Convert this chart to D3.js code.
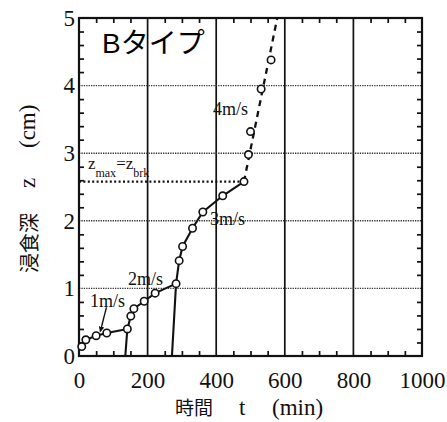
<!DOCTYPE html>
<html><head><meta charset="utf-8">
<script src="https://cdn.jsdelivr.net/npm/d3@7"></script>
<style>
body{margin:0;background:#fff}svg{display:block}
.sf{font-family:"Liberation Serif","Times New Roman","DejaVu Serif",serif}
.cj{font-family:"Noto Sans CJK JP",sans-serif}
.ti{font-family:"Liberation Sans",Arial,"Noto Sans CJK JP",sans-serif}
</style>
</head><body><svg id="c" width="447" height="422"></svg>
<script>
// ---- data ----
const run1T = [8, 20, 50, 81, 141];
const run1Z = [0.14, 0.24, 0.30, 0.34, 0.40];
const run2T = [135, 141, 151, 160, 190, 222, 283];
const run2Z = [0, 0.40, 0.59, 0.70, 0.81, 0.93, 1.07];
const run3T = [271, 283, 292, 302, 331, 361, 419, 481];
const run3Z = [0, 1.07, 1.41, 1.62, 1.89, 2.13, 2.37, 2.58];
const trend4T = [481, 578];
const trend4Z = [2.58, 5.0];
const pts4T = [494, 500, 531, 560];
const pts4Z = [2.98, 3.32, 3.95, 4.38];
const zBrk = 2.58;
const xTicks = [0, 200, 400, 600, 800, 1000];
const yTicks = [0, 1, 2, 3, 4, 5];
const speedLabels = ["1m/s", "2m/s", "3m/s", "4m/s"];
const title = "Bタイプ";
const xTitle = ["時間", "t", "(min)"];
const yTitle = ["浸食深", "z", "(cm)"];

// ---- layout ----
const svg = d3.select("#c");
const L = 79, R = 422, T = 18, B = 356;
const x = d3.scaleLinear().domain([0, 1000]).range([L, R]);
const y = d3.scaleLinear().domain([0, 5]).range([B, T]);
const ink = "#111";

// grid: vertical solid, horizontal dotted
svg.append("g").selectAll("line").data(xTicks.slice(1, -1)).join("line")
  .attr("x1", d => x(d)).attr("x2", d => x(d)).attr("y1", T).attr("y2", B)
  .attr("stroke", ink).attr("stroke-width", 1.7);
svg.append("g").selectAll("line").data(yTicks.slice(1, -1)).join("line")
  .attr("x1", L).attr("x2", R).attr("y1", d => y(d)).attr("y2", d => y(d))
  .attr("stroke", "#333").attr("stroke-width", 1.4).attr("stroke-dasharray", "1.3,1.1");

// minor inward ticks via axes
const minorX = d3.range(0, 1001, 50).filter(d => d % 200 !== 0);
const minorY = d3.range(0, 5.01, 0.2).map(d => +d.toFixed(1)).filter(d => Math.abs(d - Math.round(d)) > 1e-6);
function tickStyle(g) { g.select(".domain").remove(); g.selectAll("text").remove(); g.selectAll("line").attr("stroke", ink).attr("stroke-width", 1.7); }
svg.append("g").attr("transform", `translate(0,${B})`).call(d3.axisBottom(x).tickValues(minorX).tickSize(-5)).call(tickStyle);
svg.append("g").attr("transform", `translate(0,${T})`).call(d3.axisTop(x).tickValues(minorX).tickSize(-5)).call(tickStyle);
svg.append("g").attr("transform", `translate(${L},0)`).call(d3.axisLeft(y).tickValues(minorY).tickSize(-5)).call(tickStyle);
svg.append("g").attr("transform", `translate(${R},0)`).call(d3.axisRight(y).tickValues(minorY).tickSize(-5)).call(tickStyle);

// tick labels via axes
const xa = svg.append("g").attr("transform", `translate(0,${B})`)
  .call(d3.axisBottom(x).tickValues(xTicks).tickSize(0).tickPadding(16).tickFormat(d3.format("d")));
xa.attr("font-family", null).attr("font-size", null);
xa.select(".domain").remove();
xa.selectAll("text").attr("class", "sf").attr("font-size", 23).attr("fill", ink);
const ya = svg.append("g").attr("transform", `translate(${L},0)`)
  .call(d3.axisLeft(y).tickValues(yTicks).tickSize(0).tickPadding(4).tickFormat(d3.format("d")));
ya.attr("font-family", null).attr("font-size", null);
ya.select(".domain").remove();
ya.selectAll("text").attr("class", "sf").attr("font-size", 23).attr("fill", ink);

// frame
svg.append("rect").attr("x", L).attr("y", T).attr("width", R - L).attr("height", B - T)
  .attr("fill", "none").attr("stroke", ink).attr("stroke-width", 2.2);

// z_max = z_brk dotted line
svg.append("line").attr("x1", L).attr("x2", x(trend4T[0])).attr("y1", y(zBrk)).attr("y2", y(zBrk))
  .attr("stroke", ink).attr("stroke-width", 2.2).attr("stroke-dasharray", "2,2.4");

// lines
const line = d3.line().x(d => x(d[0])).y(d => y(d[1]));
const zip = (a, b) => a.map((v, i) => [v, b[i]]);
[[run1T, run1Z], [run2T, run2Z], [run3T, run3Z]].forEach(([t, z]) => {
  svg.append("path").attr("d", line(zip(t, z))).attr("fill", "none").attr("stroke", ink).attr("stroke-width", 2.1);
});
svg.append("path").attr("d", line(zip(trend4T, trend4Z))).attr("fill", "none")
  .attr("stroke", ink).attr("stroke-width", 2.3).attr("stroke-dasharray", "6,5");

// markers
const marks = [].concat(zip(run1T, run1Z), zip(run2T, run2Z).slice(2), zip(run3T, run3Z).slice(2), zip(pts4T, pts4Z));
svg.append("g").selectAll("circle").data(marks).join("circle")
  .attr("cx", d => x(d[0])).attr("cy", d => y(d[1])).attr("r", 3.7)
  .attr("fill", "#fff").attr("stroke", ink).attr("stroke-width", 1.6);

// arrow for 1m/s
svg.append("defs").append("marker").attr("id", "ah").attr("viewBox", "0 0 10 10")
  .attr("refX", 9).attr("refY", 5).attr("markerWidth", 4).attr("markerHeight", 4).attr("orient", "auto")
  .append("path").attr("d", "M0,0L10,5L0,10z").attr("fill", ink);
svg.append("line").attr("x1", x(80)).attr("y1", y(0.72)).attr("x2", x(62)).attr("y2", y(0.36))
  .attr("stroke", ink).attr("stroke-width", 1.4).attr("marker-end", "url(#ah)");

// speed labels
const lab = (s, t, z) => svg.append("text").attr("x", x(t)).attr("y", y(z)).text(s)
  .attr("class", "sf").attr("font-size", 18).attr("fill", ink);
lab(speedLabels[0], 32, 0.72);
lab(speedLabels[1], 143, 1.05);
lab(speedLabels[2], 382, 1.94);
lab(speedLabels[3], 391, 3.56);

// z_max = z_brk label
const zl = svg.append("text").attr("x", x(26)).attr("y", y(2.76))
  .attr("class", "sf").attr("font-size", 17).attr("fill", ink);
zl.append("tspan").text("z");
zl.append("tspan").attr("dy", 8).attr("font-size", 12).text("max");
zl.append("tspan").attr("dy", -8).text("=z");
zl.append("tspan").attr("dy", 8).attr("font-size", 12).text("brk");

// title
svg.append("text").attr("x", 102).attr("y", 53).text(title)
  .attr("class", "ti").attr("font-size", 28).attr("fill", "#000");

// axis titles
svg.append("text").attr("x", 175).attr("y", 415).text(xTitle[0])
  .attr("class", "cj").attr("font-size", 19).attr("fill", ink);
svg.append("text").attr("x", 239).attr("y", 415).text(xTitle[1])
  .attr("class", "sf").attr("font-size", 23).attr("fill", ink);
svg.append("text").attr("x", 272).attr("y", 415).text(xTitle[2])
  .attr("class", "sf").attr("font-size", 23).attr("fill", ink);

const yt = svg.append("g").attr("transform", "translate(37,0) rotate(-90)");
yt.append("text").attr("x", -273).attr("y", 0).text(yTitle[0])
  .attr("class", "cj").attr("font-size", 20).attr("fill", ink);
yt.append("text").attr("x", -188).attr("y", -2).text(yTitle[1])
  .attr("class", "sf").attr("font-size", 23).attr("fill", ink);
yt.append("text").attr("x", -148).attr("y", -2).text(yTitle[2])
  .attr("class", "sf").attr("font-size", 23).attr("fill", ink);
</script></body></html>
